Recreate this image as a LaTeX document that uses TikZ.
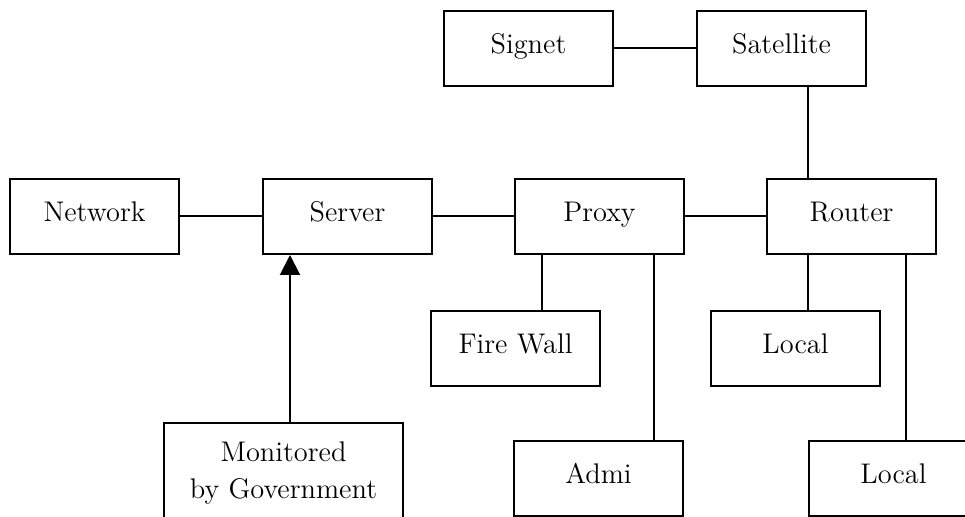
\documentclass[tikz,border=0pt]{standalone}
\usepackage{fontspec}
\usepackage{tikz}
\usetikzlibrary{arrows.meta,positioning}

\begin{document}
\begin{tikzpicture}[
    x=0.5pt, y=-0.5pt,
    font=\fontsize{14.2pt}{18.5pt}\selectfont,
    box/.style={rectangle, draw=black, line width=1pt, minimum width=84.5pt, minimum height=37.5pt, text height=10pt, text depth=4.5pt, inner sep=0pt},
    tallbox/.style={rectangle, draw=black, line width=1pt, minimum width=119.5pt, align=center, inner xsep=0pt, inner ysep=9.15pt, anchor=north},
    link/.style={line width=1pt},
    arrow/.style={-{Triangle[length=10pt,width=10pt]}, line width=1pt},
]
\useasboundingbox (0,0) rectangle (965,517);

% Top row
\node[box] (signet) at (528.5,48.5) {Signet};
\node[box] (satellite) at (781.5,48.5) {Satellite};

% Main row
\node[box] (network) at (94.5,216.5) {Network};
\node[box] (server) at (347.5,216.5) {Server};
\node[box] (proxy) at (599.5,216.5) {Proxy};
\node[box] (router) at (851.5,216.5) {Router};

% Lower rows
\node[box] (firewall) at (515.5,348.5) {Fire Wall};
\node[box] (local1) at (795.5,348.5) {Local};
\node[tallbox] (monitored) at (283.5,422) {Monitored\\by Government};
\node[box] (admi) at (598.5,478.5) {Admi};
\node[box] (local2) at (893.5,478.5) {Local};

% Connectors
\draw[link] (signet) -- (satellite);
\draw[link] (network) -- (server);
\draw[link] (server) -- (proxy);
\draw[link] (proxy) -- (router);

\coordinate (rta) at ([xshift=21pt]router.north west);
\draw[link] (rta) -- (rta |- satellite.south);

\coordinate (svin) at ([xshift=14pt]server.south west);
\draw[arrow] (svin |- monitored.north) -- (svin);

\coordinate (pxa) at ([xshift=14pt]proxy.south west);
\draw[link] (pxa) -- (pxa |- firewall.north);
\coordinate (pxb) at ([xshift=70pt]proxy.south west);
\draw[link] (pxb) -- (pxb |- admi.north);

\coordinate (rtb) at ([xshift=21pt]router.south west);
\draw[link] (rtb) -- (rtb |- local1.north);
\coordinate (rtc) at ([xshift=70pt]router.south west);
\draw[link] (rtc) -- (rtc |- local2.north);

\end{tikzpicture}
\end{document}
